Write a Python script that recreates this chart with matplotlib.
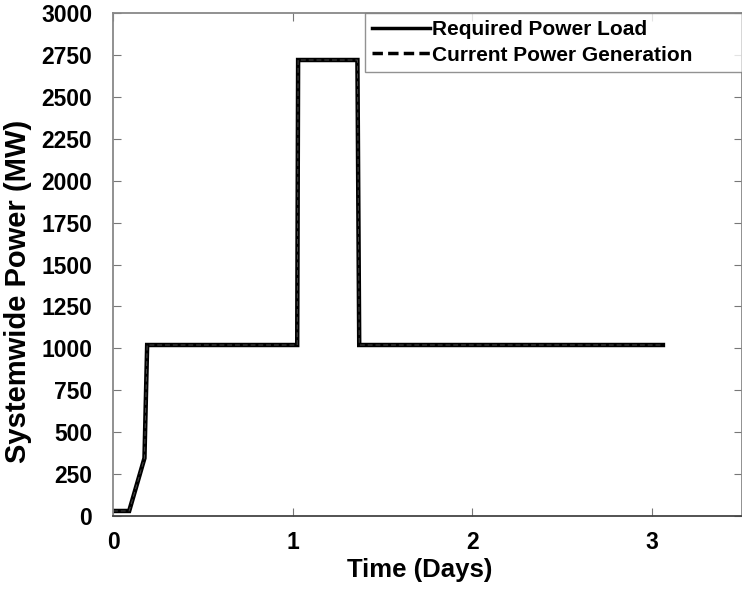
#!/usr/bin/env python3
import matplotlib
matplotlib.use("Agg")
import matplotlib.pyplot as plt

# power profile (days, MW)
time_days = [0.0, 0.09, 0.175, 0.19, 1.025, 1.03, 1.36, 1.37, 3.06]
required_load = [30, 30, 345, 1020, 1020, 2720, 2720, 1020, 1020]
current_gen = [30, 30, 345, 1020, 1020, 2720, 2720, 1020, 1020]

x_ticks = [0, 1, 2, 3]
y_ticks = list(range(0, 3001, 250))

plt.rcParams['font.family'] = ['Liberation Sans', 'DejaVu Sans']
plt.rcParams['font.weight'] = 'bold'

fig = plt.figure(figsize=(7.42, 5.91), dpi=100)
ax = fig.add_axes([0.1523, 0.1269, 0.8477, 0.851])

ax.plot(time_days, required_load, color='black', lw=3.2, solid_joinstyle='miter',
        label='Required Power Load')
ax.plot(time_days, current_gen, color='#4a4a4a', lw=0.7, ls=(0, (5, 3)),
        label='Current Power Generation')

ax.set_xlim(0, 3.5)
ax.set_ylim(0, 3000)
ax.set_xticks(x_ticks)
ax.set_yticks(y_ticks)
ax.tick_params(direction='in', length=6, color='#777777', labelsize=16.5,
               top=True, right=True)
ax.tick_params(axis='y', pad=15)
ax.tick_params(axis='x', pad=11)
for lab in ax.get_xticklabels() + ax.get_yticklabels():
    lab.set_fontweight('bold')

for side in ['top', 'right', 'left']:
    ax.spines[side].set_color('#888888')
ax.spines['bottom'].set_color('#444444')
for side in ax.spines:
    ax.spines[side].set_linewidth(1.3)

ax.set_xlabel('Time (Days)', fontsize=18.5, fontweight='bold')
ax.set_ylabel('Systemwide Power (MW)', fontsize=21, fontweight='bold')
ax.xaxis.set_label_coords(0.487, -0.083)
ax.yaxis.set_label_coords(-0.128, 0.447)

leg_lines = [
    plt.Line2D([], [], color='black', lw=2.5),
    plt.Line2D([], [], color='black', lw=2.5, ls=(0, (3, 1.5))),
]
leg = ax.legend(leg_lines, ['Required Power Load', 'Current Power Generation'],
                loc='upper left', bbox_to_anchor=(0.4, 1.0, 0.6, 0.0), mode='expand',
                fontsize=15, frameon=True, fancybox=False, handlelength=2.8,
                handletextpad=0.1, borderpad=0.35, labelspacing=0.3, borderaxespad=0)
leg.get_frame().set_edgecolor('#777777')
leg.get_frame().set_linewidth(1.0)
for t in leg.get_texts():
    t.set_fontweight('bold')

fig.savefig('out.png', dpi=100)
